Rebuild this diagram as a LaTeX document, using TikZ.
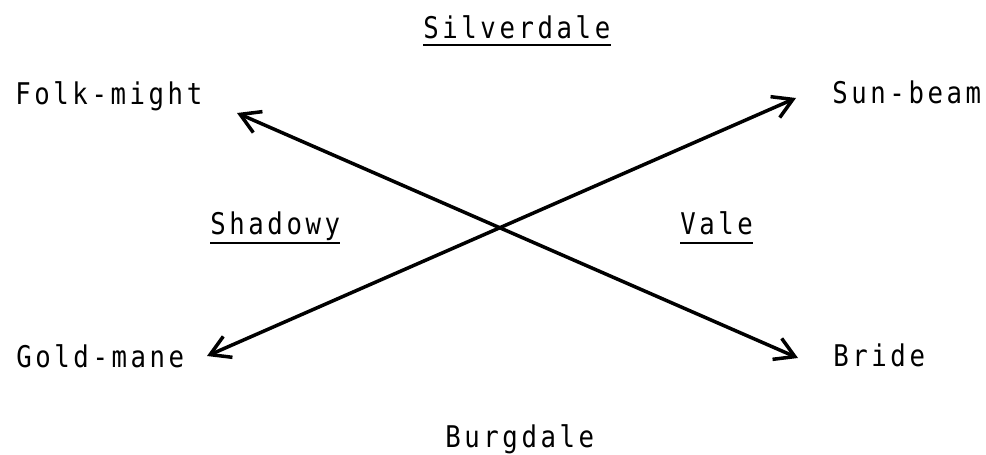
\documentclass[tikz,border=0pt]{standalone}
\usepackage{fontspec}
\newfontfamily\typefont[LetterSpace=12,FakeStretch=0.86]{DejaVu Sans Mono}
\usetikzlibrary{arrows.meta}

\begin{document}
\begin{tikzpicture}[
		x=0.02cm, y=-0.02cm,
		place/.style={font=\typefont\fontsize{17}{19}\selectfont, inner sep=0pt, anchor=base west},
		uline/.style={line width=1.2pt},
		link/.style={line width=2pt, line cap=round,
			{Straight Barb[length=11pt,width=13pt]}-{Straight Barb[length=11pt,width=13pt]}}
		]
		\useasboundingbox (0,0) rectangle (986,455);
		% the two dales
		\node[place] (silver) at (423,39) {Silverdale};
		\node[place] (burg) at (445,447) {Burgdale};
		% the four kindreds
		\node[place] (folk) at (15,105) {Folk-might};
		\node[place] (sun) at (832,104) {Sun-beam};
		\node[place] (gold) at (16,368) {Gold-mane};
		\node[place] (bride) at (833,367) {Bride};
		% the vale between
		\node[place] (shadowy) at (210,235) {Shadowy};
		\node[place] (vale) at (680,235) {Vale};
		\draw[uline] ([yshift=-0.12cm]silver.base west) -- ([yshift=-0.12cm]silver.base east);
		\draw[uline] ([yshift=-0.16cm]shadowy.base west) -- ([yshift=-0.16cm]shadowy.base east);
		\draw[uline] ([yshift=-0.16cm]vale.base west) -- ([yshift=-0.16cm]vale.base east);
		% ends of the crossing arrows
		\coordinate (folk-end) at (237,113);
		\coordinate (bride-end) at (798,358);
		\coordinate (gold-end) at (207,356);
		\coordinate (sun-end) at (796,98);
		\draw[link] (folk-end) -- (bride-end);
		\draw[link] (gold-end) -- (sun-end);
	\end{tikzpicture}
\end{document}
